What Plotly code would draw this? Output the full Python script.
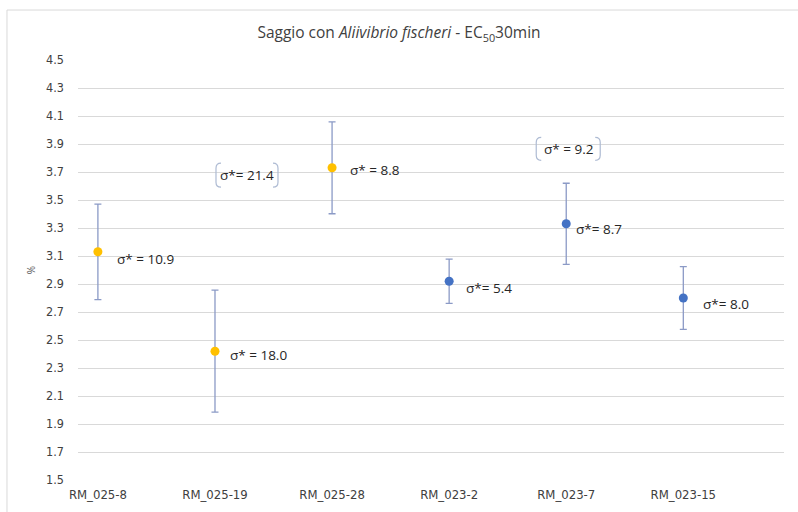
import plotly.graph_objects as go

# Samples and EC50 (30 min) results
samples = ["RM_025-8", "RM_025-19", "RM_025-28", "RM_023-2", "RM_023-7", "RM_023-15"]
ec50 = [3.13, 2.42, 3.73, 2.92, 3.33, 2.80]
sigma = [10.9, 18.0, 8.8, 5.4, 8.7, 8.0]          # relative std. dev. (%)
point_colors = ["#FFC000", "#FFC000", "#FFC000", "#4472C4", "#4472C4", "#4472C4"]

# extra bracketed sigma values shown for two samples
boxed_samples = ["RM_025-19", "RM_023-7"]
boxed_sigma = [21.4, 9.2]
boxed_text = ["σ*= {:.1f}", "σ* = {:.1f}"]

y_ticks = [1.5, 1.7, 1.9, 2.1, 2.3, 2.5, 2.7, 2.9, 3.1, 3.3, 3.5, 3.7, 3.9, 4.1, 4.3, 4.5]

err = [v * s / 100 for v, s in zip(ec50, sigma)]
xi = list(range(len(samples)))

FONT = "DejaVu Sans Condensed"
LABEL_FONT = "Open Sans, sans-serif"

fig = go.Figure()
fig.add_trace(go.Scatter(
    x=xi, y=ec50, mode="markers",
    marker=dict(size=9, color=point_colors, line=dict(width=0)),
    error_y=dict(type="data", array=err, visible=True,
                 color="#8b9ac6", thickness=1.3, width=3.5),
    hoverinfo="skip", showlegend=False,
))

# sigma labels beside each point
shifts = [(17, -7), (13, -4), (16, -2), (15, -7), (8, -5), (18, -6)]
for i, (v, s) in enumerate(zip(ec50, sigma)):
    dx, dy = shifts[i]
    fmt = "σ* = {:.1f}" if i < 3 else "σ*= {:.1f}"
    fig.add_annotation(x=i, y=v, text=fmt.format(s),
                       showarrow=False, xanchor="left", yanchor="middle",
                       xshift=dx, yshift=dy,
                       font=dict(family=LABEL_FONT, size=13.5, color="#262626"))

# bracketed labels
box_offsets = [(32, 176, 62, 24), (2, 75, 64, 23)]
for name, s, fmt, (dx, dy, w, h) in zip(boxed_samples, boxed_sigma, boxed_text, box_offsets):
    i = samples.index(name)
    v = ec50[i]
    fig.add_annotation(x=i, y=v, text=fmt.format(s), showarrow=False,
                       xanchor="center", yanchor="middle", xshift=dx, yshift=dy,
                       font=dict(family=LABEL_FONT, size=13.5, color="#262626"))
    hw, hh, r = w / 2, h / 2, 5
    l, rr, t, b = dx - hw, dx + hw, dy + hh, dy - hh
    left = f"M {l + r} {t} Q {l} {t} {l} {t - r} L {l} {b + r} Q {l} {b} {l + r} {b}"
    right = f"M {rr - r} {t} Q {rr} {t} {rr} {t - r} L {rr} {b + r} Q {rr} {b} {rr - r} {b}"
    for p in (left, right):
        fig.add_shape(type="path", path=p, xsizemode="pixel", ysizemode="pixel",
                      xanchor=i, yanchor=v, xref="x", yref="y",
                      line=dict(color="#aebbd3", width=1.2))

# light frame around the chart
fig.add_shape(type="rect", xref="paper", yref="paper",
              x0=-0.1006, x1=1.2, y0=-0.3, y1=1.119,
              line=dict(color="#d9d9d9", width=1), layer="below")

fig.update_layout(
    width=798, height=512,
    margin=dict(l=78, r=14, t=60, b=32),
    paper_bgcolor="white", plot_bgcolor="white",
    title=dict(text="Saggio con <i>Aliivibrio fischeri</i> - EC<sub>50</sub>30min",
               x=0.5, xanchor="center", y=1 - 33 / 512, yanchor="middle",
               font=dict(family=LABEL_FONT, size=15.5, color="#404040")),
    showlegend=False,
)
fig.update_xaxes(
    tickmode="array", tickvals=xi, ticktext=samples,
    range=[-0.17, 5.86], showgrid=False, zeroline=False, showline=False,
    ticks="", ticklabelstandoff=5, automargin=False,
    tickfont=dict(family=FONT, size=13, color="#404040"),
    fixedrange=True,
)
fig.update_yaxes(
    range=[1.5, 4.5], tickmode="array", tickvals=y_ticks,
    ticktext=["{:.1f}".format(t) for t in y_ticks],
    showgrid=True, gridcolor="#d9d9d9", gridwidth=1, zeroline=False,
    showline=False, ticks="", ticklabelstandoff=13, automargin=False,
    tickfont=dict(family=FONT, size=12.5, color="#404040"),
    title=dict(text="%", font=dict(family=LABEL_FONT, size=10, color="#595959"),
               standoff=8),
    fixedrange=True,
)

fig.write_html("out.html")
